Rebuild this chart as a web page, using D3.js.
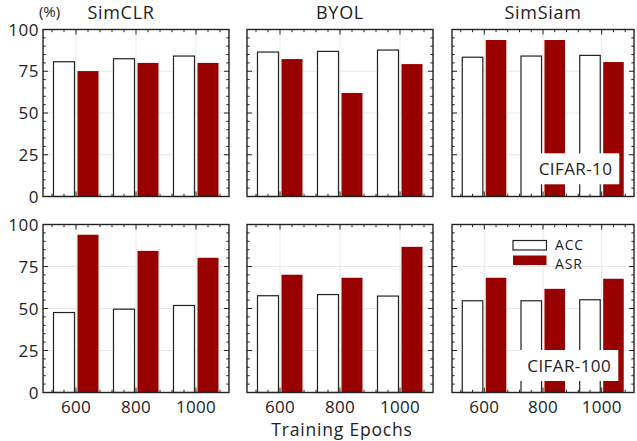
<!DOCTYPE html>
<html><head><meta charset="utf-8">
<script src="https://cdn.jsdelivr.net/npm/d3@7"></script>
<style>body{margin:0;background:#fff}svg{display:block}text{font-family:"Open Sans",Lato,sans-serif;fill:#222}</style>
</head><body><svg id="c" width="637" height="441"></svg>
<script>
const epochs = ["600", "800", "1000"];
const methods = ["SimCLR", "BYOL", "SimSiam"];
const datasets = ["CIFAR-10", "CIFAR-100"];
const yTicks = [0, 25, 50, 75, 100];
// CIFAR-10 (top row)
const acc10 = [[80.7, 82.5, 84.1], [86.5, 86.9, 87.7], [83.4, 84.1, 84.5]];
const asr10 = [[75.1, 80.0, 80.0], [82.3, 62.0, 79.3], [93.7, 93.7, 80.5]];
// CIFAR-100 (bottom row)
const acc100 = [[47.6, 49.6, 51.8], [57.6, 58.3, 57.4], [54.6, 54.6, 55.2]];
const asr100 = [[93.9, 84.3, 80.2], [70.1, 68.3, 86.7], [68.3, 61.7, 67.7]];
const seriesNames = ["ACC", "ASR"];

const svg = d3.select("#c");
const red = "#990000";
const colX = [[43, 229], [247, 433], [452, 634]];
const rowY = [[196.5, 29.5], [392.5, 224.5]];
const rows = [[acc10, asr10], [acc100, asr100]];

rows.forEach((rowData, r) => {
  methods.forEach((m, c) => {
    const x = d3.scaleLinear().domain([0.45, 3.55]).range(colX[c]);
    const y = d3.scaleLinear().domain([0, 100]).range(rowY[r]);
    const g = svg.append("g");
    g.selectAll(".gy").data([25, 50, 75]).join("line")
      .attr("x1", colX[c][0]).attr("x2", colX[c][1])
      .attr("y1", d => y(d)).attr("y2", d => y(d))
      .attr("stroke", "#e8e8e8").attr("stroke-width", 1);
    g.selectAll(".gx").data([1, 2, 3]).join("line")
      .attr("x1", d => x(d)).attr("x2", d => x(d))
      .attr("y1", rowY[r][0]).attr("y2", rowY[r][1])
      .attr("stroke", "#e8e8e8").attr("stroke-width", 1);
    const bw = 0.35;
    const acc = rowData[0][c], asr = rowData[1][c];
    g.selectAll(".acc").data(acc).join("rect")
      .attr("x", (d, i) => x(i + 1 - 0.2 - bw / 2))
      .attr("width", x(bw) - x(0))
      .attr("y", d => y(d)).attr("height", d => y(0) - y(d))
      .attr("fill", "#fff").attr("stroke", "#222").attr("stroke-width", 1.2);
    g.selectAll(".asr").data(asr).join("rect")
      .attr("x", (d, i) => x(i + 1 + 0.2 - bw / 2))
      .attr("width", x(bw) - x(0))
      .attr("y", d => y(d)).attr("height", d => y(0) - y(d))
      .attr("fill", red);
    const yMinor = d3.range(0, 101, 5);
    const xMinor = d3.range(0.6, 3.41, 0.2);
    const tk = g.append("g").attr("stroke", "#222").attr("stroke-width", 1);
    yMinor.forEach(v => {
      const L = v % 25 === 0 ? 5 : 2.7;
      tk.append("line").attr("x1", colX[c][0]).attr("x2", colX[c][0] + L).attr("y1", y(v)).attr("y2", y(v));
      tk.append("line").attr("x1", colX[c][1]).attr("x2", colX[c][1] - L).attr("y1", y(v)).attr("y2", y(v));
    });
    xMinor.forEach(v => {
      const major = Math.abs(v - Math.round(v)) < 1e-6;
      const L = major ? 5 : 2.7;
      tk.append("line").attr("x1", x(v)).attr("x2", x(v)).attr("y1", rowY[r][0]).attr("y2", rowY[r][0] - L);
      tk.append("line").attr("x1", x(v)).attr("x2", x(v)).attr("y1", rowY[r][1]).attr("y2", rowY[r][1] + L);
    });
    g.append("rect").attr("x", colX[c][0]).attr("y", rowY[r][1])
      .attr("width", colX[c][1] - colX[c][0]).attr("height", rowY[r][0] - rowY[r][1])
      .attr("fill", "none").attr("stroke", "#222").attr("stroke-width", 1.4);
    if (c === 0) {
      g.selectAll(".yl").data(yTicks).join("text")
        .attr("x", colX[c][0] - 4).attr("y", d => y(d) + 6)
        .attr("text-anchor", "end").attr("font-size", 17).attr("letter-spacing", 0.5).text(d => d);
    }
    if (r === 1) {
      g.selectAll(".xl").data(epochs).join("text")
        .attr("x", (d, i) => x(i + 1)).attr("y", 413)
        .attr("text-anchor", "middle").attr("font-size", 17).attr("letter-spacing", 0.3).text(d => d);
    }
    if (r === 0) {
      svg.append("text").attr("x", c === 0 ? 121 : (colX[c][0] + colX[c][1]) / 2).attr("y", 18.5)
        .attr("text-anchor", "middle").attr("font-size", 18).attr("letter-spacing", 0.7).text(m);
    }
  });
});

svg.append("text").attr("x", 342).attr("y", 436).attr("text-anchor", "middle").attr("font-size", 17.5)
  .attr("letter-spacing", 0.8).text("Training Epochs");
svg.append("text").attr("x", 49.5).attr("y", 17).attr("text-anchor", "middle").attr("font-size", 15).text("(%)");

const dsBox = [[531.7, 153.3, 87.6, 31], [520, 350, 98.3, 31]];
datasets.forEach((d, i) => {
  const b = dsBox[i];
  svg.append("rect").attr("x", b[0]).attr("y", b[1]).attr("width", b[2]).attr("height", b[3]).attr("fill", "#fff");
  svg.append("text").attr("x", b[0] + b[2] / 2).attr("y", b[1] + 22).attr("text-anchor", "middle")
    .attr("font-size", 17).attr("letter-spacing", 0.4).text(d);
});

const lg = svg.append("g");
seriesNames.forEach((s, i) => {
  const yy = 240.5 + i * 15;
  lg.append("rect").attr("x", 513).attr("y", yy).attr("width", 33.5).attr("height", 9.5)
    .attr("fill", i === 0 ? "#fff" : red).attr("stroke", i === 0 ? "#222" : "none").attr("stroke-width", 1.2);
  lg.append("text").attr("x", 555).attr("y", i === 0 ? 249.5 : 268.5).attr("font-size", 14).attr("letter-spacing", 0.8).text(s);
});
</script></body></html>
